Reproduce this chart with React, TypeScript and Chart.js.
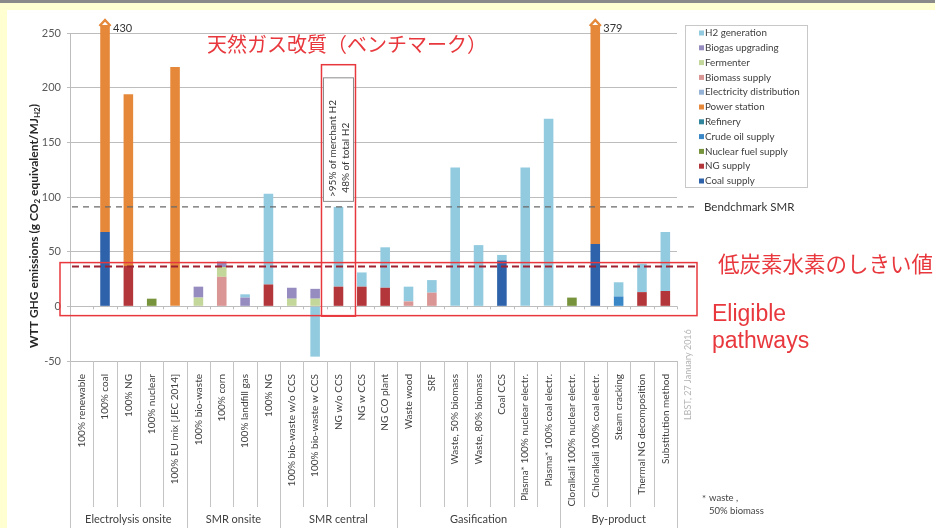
import React, { useEffect, useRef } from "react";
import { Chart, registerables } from "chart.js";

Chart.register(...registerables);

// ---------- data ----------
const categories = [
  "100% renewable", "100% coal", "100% NG", "100% nuclear", "100% EU mix [JEC 2014]",
  "100% bio-waste", "100% corn", "100% landfill gas", "100% NG",
  "100% bio-waste w/o CCS", "100% bio-waste w CCS", "NG w/o CCS", "NG w CCS", "NG CO plant",
  "Waste wood", "SRF", "Waste, 50% biomass", "Waste, 80% biomass", "Coal CCS",
  "Plasma* 100% nuclear electr.", "Plasma* 100% coal electr.",
  "Cloralkali 100% nuclear electr.", "Chloralkali 100% coal electr.", "Steam cracking",
  "Thermal NG decomposition", "Substitution method",
];
const groupLabels = ["Electrolysis onsite", "SMR onsite", "SMR central", "Gasification", "By-product"];
const groupSizes = [5, 4, 5, 7, 5];

//                         0  1    2    3  4    5   6   7  8   9   10   11  12  13  14   15    16   17  18  19   20     21 22   23  24  25
const coalSupply =        [0, 68,  0,   0, 0,   0,  0,  0, 0,  0,  0,   0,  0,  0,  0,   0,    0,   0,  42, 0,   0,     0, 57,  0,  0,  0];
const ngSupply =          [0, 0,   37,  0, 0,   0,  0,  0, 20, 0,  0,   18, 18, 17, 0,   0,    0,   0,  0,  0,   0,     0, 0,   0,  13, 14];
const nuclearFuelSupply = [0, 0,   0,   7, 0,   0,  0,  0, 0,  0,  0,   0,  0,  0,  0,   0,    0,   0,  0,  0,   0,     8, 0,   0,  0,  0];
const crudeOilSupply =    [0, 0,   0,   0, 0,   0,  0,  0, 0,  0,  0,   0,  0,  0,  0,   0,    0,   0,  0,  0,   0,     0, 0,   9,  0,  0];
const refinery =          [0, 0,   0,   0, 0,   0,  0,  0, 0,  0,  0,   0,  0,  0,  0,   0,    0,   0,  0,  0,   0,     0, 0,   0,  0,  0];
const powerStation =      [0, 362, 157, 0, 219, 0,  0,  0, 0,  0,  0,   0,  0,  0,  0,   0,    0,   0,  0,  0,   0,     0, 322, 0,  0,  0];
const electricityDist =   [0, 0,   0,   0, 0,   0,  0,  0, 0,  0,  0,   0,  0,  0,  0,   0,    0,   0,  0,  0,   0,     0, 0,   0,  0,  0];
const biomassSupply =     [0, 0,   0,   0, 0,   0,  27, 0, 0,  0,  0,   0,  0,  0,  4.5, 12.5, 0,   0,  0,  0,   0,     0, 0,   0,  0,  0];
const fermenter =         [0, 0,   0,   0, 0,   8,  9,  0, 0,  7,  7,   0,  0,  0,  0,   0,    0,   0,  0,  0,   0,     0, 0,   0,  0,  0];
const biogasUpgrading =   [0, 0,   0,   0, 0,   10, 5,  8, 0,  10, 9,   0,  0,  0,  0,   0,    0,   0,  0,  0,   0,     0, 0,   0,  0,  0];
const h2Generation =      [0, 0,   0,   0, 0,   0,  0,  3, 83, 0,  -46, 73, 13, 37, 13.5, 11.5, 127, 56, 5,  127, 171.5, 0, 0,   13, 26, 54];

const yMin = -50;
const yMax = 250;
const yStep = 50;
const benchmarkSMR = 91;
const lowCarbonThreshold = 36.4;

// stacking order bottom -> top
const seriesLabels = [
  "Coal supply", "NG supply", "Nuclear fuel supply", "Crude oil supply", "Refinery",
  "Power station", "Electricity distribution", "Biomass supply", "Fermenter",
  "Biogas upgrading", "H2 generation",
];
const seriesValues = [
  coalSupply, ngSupply, nuclearFuelSupply, crudeOilSupply, refinery,
  powerStation, electricityDist, biomassSupply, fermenter, biogasUpgrading, h2Generation,
];
const seriesColors = [
  "#2E62AA", "#B2363A", "#77933C", "#3A87C8", "#31859C",
  "#E5883A", "#95B3D7", "#DA9694", "#C4D79B", "#978CC0", "#92CBDF",
];

const RED = "#E8383D";
const FONT = "Lato, 'Open Sans', sans-serif";

function drawOverlay(chart: any) {
  const { ctx, chartArea: ca, scales } = chart;
  const xs = scales.x;
  const ys = scales.y;
  const n = categories.length;
  const catW = (ca.right - ca.left) / n;
  const bx = (i: number) => ca.left + i * catW;
  ctx.save();

  // category / group separators under the axis
  const groupEdges = new Set<number>([0]);
  let acc = 0;
  groupSizes.forEach((s) => { acc += s; groupEdges.add(acc); });
  ctx.strokeStyle = "#C4C4C4";
  ctx.lineWidth = 1;
  for (let i = 0; i <= n; i++) {
    const x = Math.round(bx(i)) + 0.5;
    ctx.beginPath();
    ctx.moveTo(x, ca.bottom);
    ctx.lineTo(x, groupEdges.has(i) ? chart.height : ca.bottom + 146);
    ctx.stroke();
  }
  // zero-axis tick marks
  const y0 = ys.getPixelForValue(0);
  ctx.strokeStyle = "#BDBDBD";
  for (let i = 0; i <= n; i++) {
    const x = Math.round(bx(i)) + 0.5;
    ctx.beginPath();
    ctx.moveTo(x, y0);
    ctx.lineTo(x, y0 + 3);
    ctx.stroke();
  }
  // group labels
  ctx.fillStyle = "#404040";
  ctx.font = `11px ${FONT}`;
  ctx.textAlign = "center";
  ctx.textBaseline = "middle";
  let start = 0;
  groupSizes.forEach((s, gi) => {
    const cx = (bx(start) + bx(start + s)) / 2;
    ctx.fillText(groupLabels[gi], cx, chart.height - 9);
    start += s;
  });

  // benchmark dashed line
  const xL = ca.left + 2;
  const xR = ca.right + 20;
  const yB = ys.getPixelForValue(benchmarkSMR);
  ctx.setLineDash([6, 5]);
  ctx.strokeStyle = "#6A6A6A";
  ctx.lineWidth = 1.4;
  ctx.beginPath();
  ctx.moveTo(xL, yB);
  ctx.lineTo(xR, yB);
  ctx.stroke();
  ctx.fillStyle = "#333333";
  ctx.font = `11.5px ${FONT}`;
  ctx.textAlign = "left";
  ctx.fillText("Bendchmark SMR", ca.right + 27, yB);

  // low carbon threshold dashed line
  const yT = ys.getPixelForValue(lowCarbonThreshold);
  ctx.setLineDash([7, 4]);
  ctx.strokeStyle = "#9E2131";
  ctx.lineWidth = 2;
  ctx.beginPath();
  ctx.moveTo(xL, yT);
  ctx.lineTo(xR, yT);
  ctx.stroke();
  ctx.setLineDash([]);

  // eligible pathways rectangle
  ctx.strokeStyle = RED;
  ctx.lineWidth = 1.5;
  const rTop = ys.getPixelForValue(40);
  const rBot = ys.getPixelForValue(-8.5);
  ctx.strokeRect(ca.left - 10, rTop, ca.right + 20 - (ca.left - 10), rBot - rTop);

  // NG w/o CCS box
  const ngIdx = 11;
  const cx = xs.getPixelForValue(ngIdx);
  const bTop = ys.getPixelForValue(209);
  const bBot = ys.getPixelForValue(96);
  ctx.fillStyle = "#FFFFFF";
  ctx.fillRect(cx - 15, bTop, 30, bBot - bTop);
  ctx.strokeStyle = "#8C8C8C";
  ctx.lineWidth = 1;
  ctx.strokeRect(cx - 15, bTop, 30, bBot - bTop);
  ctx.strokeStyle = RED;
  ctx.lineWidth = 1.5;
  const nTop = ys.getPixelForValue(221);
  const nBot = ys.getPixelForValue(-9);
  ctx.strokeRect(cx - 17, nTop, 34, nBot - nTop);
  ctx.fillStyle = "#333333";
  ctx.font = `10px ${FONT}`;
  ctx.textBaseline = "middle";
  ctx.textAlign = "left";
  const tLines = [">95% of merchant H2", "48% of total H2"];
  const tOff = [-6, 7];
  const tBase = [ys.getPixelForValue(100), ys.getPixelForValue(104)];
  tLines.forEach((t, k) => {
    ctx.save();
    ctx.translate(cx + tOff[k], tBase[k]);
    ctx.rotate(-Math.PI / 2);
    ctx.fillText(t, 0, 0);
    ctx.restore();
  });

  // overflow arrows
  const powerIdx = seriesLabels.indexOf("Power station");
  for (let i = 0; i < n; i++) {
    let total = 0;
    seriesValues.forEach((arr) => { if (arr[i] > 0) total += arr[i]; });
    if (total > yMax) {
      const el = chart.getDatasetMeta(powerIdx).data[i];
      const x = el.x;
      const w = el.width;
      ctx.fillStyle = seriesColors[powerIdx];
      ctx.fillRect(x - w / 2, ca.top - 8, w, 9);
      ctx.strokeStyle = seriesColors[powerIdx];
      ctx.lineWidth = 2.5;
      ctx.lineJoin = "miter";
      ctx.beginPath();
      ctx.moveTo(x - 5.5, ca.top - 7);
      ctx.lineTo(x, ca.top - 13);
      ctx.lineTo(x + 5.5, ca.top - 7);
      ctx.stroke();
      ctx.fillStyle = "#333333";
      ctx.font = `11px ${FONT}`;
      ctx.textAlign = "left";
      ctx.textBaseline = "middle";
      ctx.fillText(String(Math.round(total)), x + 8, ca.top - 5);
    }
  }

  // y-axis title with subscripts
  const segs: [string, boolean][] = [
    ["WTT GHG emissions (g CO", false], ["2", true], [" equivalent/MJ", false], ["H2", true], [")", false],
  ];
  const mainF = `bold 12px ${FONT}`;
  const subF = `bold 8px ${FONT}`;
  let total = 0;
  segs.forEach(([t, sub]) => { ctx.font = sub ? subF : mainF; total += ctx.measureText(t).width; });
  ctx.save();
  ctx.translate(27, 216);
  ctx.rotate(-Math.PI / 2);
  ctx.fillStyle = "#262626";
  ctx.textAlign = "left";
  ctx.textBaseline = "middle";
  let px = -total / 2;
  segs.forEach(([t, sub]) => {
    ctx.font = sub ? subF : mainF;
    ctx.fillText(t, px, sub ? 3 : 0);
    px += ctx.measureText(t).width;
  });
  ctx.restore();

  // legend
  const lx = 678, ly = 15, lw = 122, lh = 162;
  ctx.fillStyle = "#FFFFFF";
  ctx.fillRect(lx, ly, lw, lh);
  ctx.strokeStyle = "#C8C8C8";
  ctx.lineWidth = 1;
  ctx.strokeRect(lx + 0.5, ly + 0.5, lw, lh);
  ctx.font = `9.8px ${FONT}`;
  ctx.textAlign = "left";
  ctx.textBaseline = "middle";
  const order = seriesLabels.map((_, k) => seriesLabels.length - 1 - k);
  order.forEach((k, row) => {
    const yy = ly + 8 + row * 14.8;
    ctx.fillStyle = seriesColors[k];
    ctx.fillRect(lx + 14, yy - 2.5, 5, 5);
    ctx.fillStyle = "#404040";
    ctx.fillText(seriesLabels[k], lx + 20, yy);
  });

  // red annotations
  ctx.fillStyle = RED;
  ctx.textAlign = "left";
  ctx.textBaseline = "middle";
  ctx.font = `20px 'Noto Sans CJK JP', sans-serif`;
  ctx.fillText("天然ガス改質（ベンチマーク）", 200, 34);
  ctx.font = `21.5px 'Noto Sans CJK JP', sans-serif`;
  ctx.fillText("低炭素水素のしきい値", 711, 254);
  ctx.font = `23px 'Liberation Sans', Arial, sans-serif`;
  ctx.fillText("Eligible", 705, 305);
  ctx.fillText("pathways", 705, 332);

  // source stamp
  ctx.save();
  ctx.translate(681, 410);
  ctx.rotate(-Math.PI / 2);
  ctx.fillStyle = "#B4B4B4";
  ctx.font = `9px ${FONT}`;
  ctx.fillText("LBST, 27 January 2016", 0, 0);
  ctx.restore();

  // footnote
  ctx.fillStyle = "#444444";
  ctx.font = `9.5px ${FONT}`;
  ctx.fillText("*", 695, 489);
  ctx.fillText("waste ,", 702, 488);
  ctx.fillText("50% biomass", 702, 501);

  ctx.restore();
}

export default function App() {
  const ref = useRef<HTMLCanvasElement | null>(null);
  useEffect(() => {
    if (!ref.current) return;
    const chart = new Chart(ref.current, {
      type: "bar",
      data: {
        labels: categories,
        datasets: seriesLabels.map((label, k) => ({
          label,
          data: seriesValues[k],
          backgroundColor: seriesColors[k],
          borderWidth: 0,
          barPercentage: 0.41,
          categoryPercentage: 1,
          stack: "s",
        })),
      },
      options: {
        animation: false,
        responsive: false,
        devicePixelRatio: 1,
        layout: { padding: { top: 23, right: 258, bottom: 0, left: 0 } },
        plugins: { legend: { display: false }, tooltip: { enabled: false }, title: { display: false } },
        scales: {
          x: {
            stacked: true,
            grid: { display: false },
            border: { display: false },
            ticks: {
              autoSkip: false,
              maxRotation: 90,
              minRotation: 90,
              padding: 5,
              color: "#404040",
              font: { family: FONT, size: 10 },
            },
            afterFit: (s: any) => { s.height = 167; s.paddingLeft = 0; s.paddingRight = 0; },
          },
          y: {
            stacked: true,
            min: yMin,
            max: yMax,
            ticks: { stepSize: yStep, padding: 6, color: "#595959", font: { family: FONT, size: 11 } },
            grid: { color: "#BDBDBD", tickLength: 3 },
            border: { display: true, color: "#BDBDBD" },
            afterFit: (s: any) => { s.width = 63; },
          },
        },
      },
      plugins: [{ id: "overlay", afterDraw: drawOverlay }],
    });
    return () => chart.destroy();
  }, []);

  return (
    <div
      style={{
        position: "fixed", left: 0, top: 0, width: 935, height: 528,
        background: "#FFFFD2", borderTop: "3px solid #8A8A8A", boxSizing: "border-box",
      }}
    >
      <div style={{ position: "absolute", left: 7, top: 7, width: 928, height: 518, background: "#FFFFFF" }}>
        <canvas ref={ref} width={928} height={518} style={{ display: "block" }} />
      </div>
    </div>
  );
}
